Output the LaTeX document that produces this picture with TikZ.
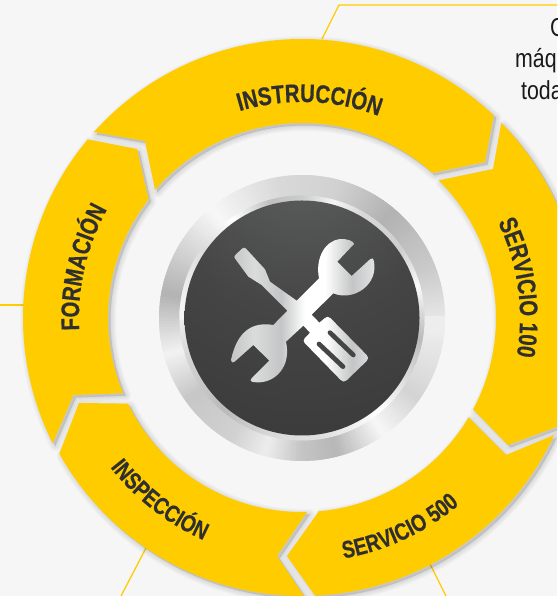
\documentclass[tikz,border=0pt]{standalone}
\usepackage{fontspec}
\usetikzlibrary{decorations.text}
\newfontfamily\lblfam{Liberation Sans}[FakeStretch=0.8,FakeBold=0.5]
\newfontfamily\bodyfam{Liberation Sans}[FakeStretch=0.82]
\definecolor{ringyellow}{HTML}{FFCC00}
\definecolor{bgpage}{HTML}{F6F6F6}
\definecolor{lbl}{HTML}{2F2F30}
\definecolor{glowA}{HTML}{6E7070}
\definecolor{glowB}{HTML}{585959}
\definecolor{glowC}{HTML}{454545}
\definecolor{glowD}{HTML}{393838}
\definecolor{glowE}{HTML}{333232}
\definecolor{slv}{HTML}{C4C5C6}
\definecolor{slvB}{HTML}{DADBDB}
\pgfdeclareradialshading{darkglass}{\pgfpoint{0bp}{44bp}}{color(0bp)=(glowA);color(12bp)=(glowB);color(30bp)=(glowC);color(55bp)=(glowD);color(100bp)=(glowE)}
\pgfdeclarehorizontalshading{silver}{100bp}{color(0bp)=(slv);color(25bp)=(slv);color(33bp)=(slvB);color(42bp)=(slv);color(50bp)=(white);color(57bp)=(white);color(66bp)=(slv);color(72bp)=(slvB);color(77bp)=(white!85!slv);color(84bp)=(slv);color(100bp)=(slv);color(100bp)=(slv)}
\newcommand\ringlabel[5]{% start angle, end angle, radius, font size, text
  \path[decorate,decoration={text along path,text align=center,
    text={|\lblfam\bfseries\fontsize{#4}{#4}\selectfont\color{lbl}|#5}}]
    (#1:#3pt) arc[start angle=#1,end angle=#2,radius=#3pt];}
\newcommand\metalring[3]{% radius, rotation, lightness boost
  \foreach \a/\la/\b/\lb in {-5/.93/20/.80,20/.80/50/.70,50/.70/75/.82,75/.82/100/.85,100/.85/130/.97,130/.97/150/.83,150/.83/170/.70,170/.70/195/.95,195/.95/215/.78,215/.78/240/.82,240/.82/255/.93,255/.93/270/.77,270/.77/285/.72,285/.72/305/.97,305/.97/325/.83,325/.83/355/.93}{
    \pgfmathtruncatemacro\nsteps{ceil((\b-\a)/1.25)}
    \foreach \k in {1,...,\nsteps}{
      \pgfmathsetmacro\tA{\a+(\k-1)*(\b-\a)/\nsteps+#2}
      \pgfmathsetmacro\tB{\a+\k*(\b-\a)/\nsteps+#2+.8}
      \pgfmathsetmacro\lev{min(1,\la+(\lb-\la)*(\k-.5)/\nsteps+#3)}
      \definecolor{mc}{gray}{\lev}
      \fill[mc] (0,0) -- (\tA:#1pt) arc[start angle=\tA,end angle=\tB,radius=#1pt] -- cycle;
    }}
  \pgfmathsetmacro\lev{min(1,.93+#3)}
  \definecolor{mc}{gray}{\lev}
  \pgfmathsetmacro\tA{355+#2}\pgfmathsetmacro\tB{355.8+#2+5}
  \fill[mc] (0,0) -- (\tA:#1pt) arc[start angle=\tA,end angle=\tB,radius=#1pt] -- cycle;
}
\newcommand\segInstr{(138.2:279pt) arc[start angle=138.2,end angle=46.6,radius=279pt] -- (183pt,156pt) -- (48.1:195pt) arc[start angle=48.1,end angle=138.9,radius=195pt] -- (-157pt,177pt) -- cycle}
\newcommand\segSerA{(44.4:279pt) arc[start angle=44.4,end angle=-22.8,radius=279pt] -- (206pt,-127pt) -- (-28.1:194pt) arc[start angle=-28.1,end angle=45.2,radius=194pt] -- (191pt,149pt) -- cycle}
\newcommand\segSerB{(-24.9:278pt) arc[start angle=-24.9,end angle=-87.3,radius=278pt] -- (-15pt,-238pt) -- (-85:194pt) arc[start angle=-85,end angle=-30.8,radius=194pt] -- (204pt,-137pt) -- cycle}
\newcommand\segInsp{(-89.6:278pt) arc[start angle=-89.6,end angle=-150.8,radius=278pt] -- (-223pt,-85pt) -- (-153.8:194pt) arc[start angle=-153.8,end angle=-88.5,radius=194pt] -- (-25pt,-238pt) -- cycle}
\newcommand\segForm{(206.7:279pt) arc[start angle=206.7,end angle=140.2,radius=279pt] -- (-165pt,169pt) -- (142.3:194pt) arc[start angle=142.3,end angle=202.8,radius=194pt] -- (-228.5pt,-77pt) -- cycle}
\tikzset{
  leader/.style={draw=ringyellow,line width=1.3pt},
  bodytext/.style={anchor=base west,inner sep=0pt,text=black!90,font=\bodyfam\fontsize{26}{26}\selectfont},
  soft/.style={black,opacity=.018,line join=round,shift={(2.5pt,-2.5pt)}}
}
\begin{document}
\begin{tikzpicture}[x=1pt,y=1pt]
\useasboundingbox (0,0) rectangle (557,596);
\clip (0,0) rectangle (557,596);
\fill[bgpage] (0,0) rectangle (557,596);
% leaders
\coordinate (lt0) at (322,557);
\coordinate (lt1) at (339,591);
\coordinate (lt2) at (557,591);
\draw[leader] (lt0) -- (lt1) -- (lt2);
\coordinate (ll0) at (0,291);
\coordinate (ll1) at (24,291);
\draw[leader] (ll0) -- (ll1);
\coordinate (lb0) at (146,48);
\coordinate (lb1) at (121,0);
\draw[leader] (lb0) -- (lb1);
\coordinate (lc0) at (430,32);
\coordinate (lc1) at (446,0);
\draw[leader] (lc0) -- (lc1);
% clipped text
\node[bodytext] (tg) at (550,559) {G};
\node[bodytext] (tm) at (515,528) {máq};
\node[bodytext] (tt) at (521,496) {toda};
\begin{scope}[shift={(302pt,278pt)}]
  % shadows
  \foreach \s in {\segInstr,\segSerA,\segSerB,\segInsp,\segForm}{
    \foreach \w in {1,3,5,7,9,11}{
      \filldraw[soft,line width=\w pt] \s;
    }
  }
  % ring
  \foreach \s in {\segInstr,\segSerA,\segSerB,\segInsp,\segForm}{
    \fill[ringyellow] \s;
  }
  % labels
  \ringlabel{128}{48}{216}{25.5}{INSTRUCCIÓN}
  \ringlabel{48}{-32}{218}{25.5}{SERVICIO 100}
  \ringlabel{-105}{-25}{244}{24}{SERVICIO 500}
  \ringlabel{-168}{-88}{243}{24}{INSPECCIÓN}
  \ringlabel{207}{127}{223}{25.5}{FORMACIÓN}
  % metal badge
  \metalring{143}{0}{0}
  \metalring{122.5}{180}{.03}
  \shade[shading=darkglass] (0,0) circle[radius=117.5pt];
\end{scope}
% tools icon, coordinates in 3x crop pixels
\begin{scope}[shift={(150pt,426pt)},x=.33333pt,y=-.33333pt]
  \shade[shading=silver]
    (612,222) .. controls (612,213) and (590,206) .. (570,207)
    .. controls (525,212) and (495,265) .. (507,325)
    -- (440,392) -- (360,335) -- (345,298) -- (288,236)
    .. controls (284,232) and (280,232) .. (276,236)
    -- (256,255) .. controls (252,259) and (252,263) .. (256,267)
    -- (295,320) -- (335,345) -- (412,422) -- (370,465)
    .. controls (310,455) and (262,480) .. (243,570)
    .. controls (243,578) and (248,580) .. (254,575)
    -- (310,525) -- (358,572) -- (305,625)
    .. controls (297,633) and (305,637) .. (320,637)
    .. controls (375,640) and (425,590) .. (408,515)
    -- (460,467) -- (480,488) -- (464,505)
    .. controls (460,510) and (460,515) .. (464,519)
    -- (572,630) .. controls (578,636) and (584,636) .. (590,631)
    -- (650,573) .. controls (656,567) and (656,561) .. (650,555)
    -- (542,445) .. controls (536,439) and (530,439) .. (525,444)
    -- (508,458) -- (485,434) -- (550,370)
    .. controls (610,395) and (685,345) .. (672,275)
    .. controls (670,264) and (665,262) .. (660,268)
    -- (605,318) -- (562,275) -- cycle;
  \draw[glowC,line width=4.7pt,line cap=round] (507,522) -- (579,590);
  \draw[glowC,line width=4.7pt,line cap=round] (540,488) -- (610,555);
\end{scope}
\end{tikzpicture}
\end{document}
